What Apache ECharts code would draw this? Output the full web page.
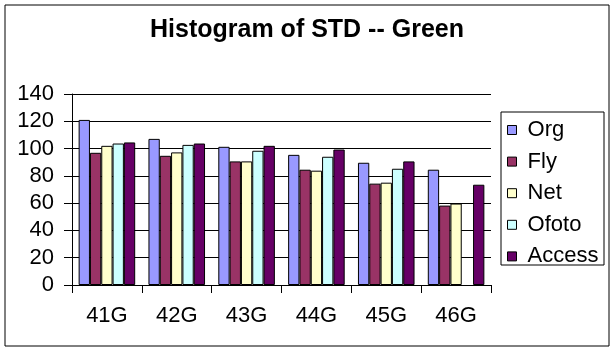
<!DOCTYPE html>
<html>
<head>
<meta charset="utf-8">
<script src="https://cdn.jsdelivr.net/npm/echarts@6/dist/echarts.min.js"></script>
<style>
html,body{margin:0;padding:0;background:#fff;}
#chart{width:614px;height:352px;}
</style>
</head>
<body>
<div id="chart"></div>
<script>
var categories = ['41G', '42G', '43G', '44G', '45G', '46G'];
var seriesNames = ['Org', 'Fly', 'Net', 'Ofoto', 'Access'];
var org    = [121.0, 107.1, 101.3, 95.4, 89.6, 84.5];
var fly    = [96.9, 94.7, 90.6, 84.5, 74.3, 58.2];
var net    = [102.0, 97.2, 90.6, 83.8, 75.0, 59.7];
var ofoto  = [103.7, 102.7, 98.4, 94.0, 85.2, null];
var access = [104.5, 103.7, 102.0, 99.3, 90.6, 73.5];
var yTicks = [0, 20, 40, 60, 80, 100, 120, 140];
var colors = ['#9999FF', '#993366', '#FFFFCC', '#CCFFFF', '#660066'];
var values = [org, fly, net, ofoto, access];

var FONT = "'Liberation Sans', Arial, sans-serif";
var chart = echarts.init(document.getElementById('chart'), null, {renderer: 'canvas'});

var series = seriesNames.map(function (n, i) {
  return {
    name: n,
    type: 'bar',
    data: values[i],
    barGap: '0%',
    barCategoryGap: '19%',
    itemStyle: {color: colors[i], borderColor: '#000', borderWidth: 1},
    emphasis: {disabled: true}
  };
});

chart.setOption({
  animation: false,
  backgroundColor: '#fff',
  title: {
    text: 'Histogram of STD -- Green',
    left: 'center',
    top: 13,
    textStyle: {fontFamily: FONT, fontSize: 25, fontWeight: 'bold', color: '#000'}
  },
  grid: {left: 72, right: 123, top: 94, bottom: 67, containLabel: false},
  legend: {
    orient: 'vertical',
    left: 507,
    top: 119,
    padding: 0,
    itemWidth: 9,
    itemHeight: 9,
    itemGap: 9.6,
    icon: 'rect',
    data: seriesNames,
    formatter: function (n) { return ' ' + n; },
    itemStyle: {borderColor: '#000', borderWidth: 1},
    textStyle: {fontFamily: FONT, fontSize: 22, lineHeight: 21, color: '#000'},
    selectedMode: false
  },
  xAxis: {
    type: 'category',
    data: categories,
    boundaryGap: true,
    axisLine: {lineStyle: {color: '#000', width: 1}},
    axisTick: {show: true, length: 8, lineStyle: {color: '#000'}},
    axisLabel: {margin: 20, fontFamily: FONT, fontSize: 22, color: '#000'}
  },
  yAxis: {
    type: 'value',
    min: yTicks[0],
    max: yTicks[yTicks.length - 1],
    interval: 20,
    axisLine: {show: true, lineStyle: {color: '#000', width: 1}},
    axisTick: {show: true, length: 8, lineStyle: {color: '#000'}},
    axisLabel: {margin: 18, fontFamily: FONT, fontSize: 22, color: '#000'},
    splitLine: {show: true, lineStyle: {color: '#000', width: 1}}
  },
  graphic: [
    {type: 'rect', shape: {x: 5, y: 5, width: 604, height: 341}, style: {fill: 'none', stroke: '#000', lineWidth: 1}, silent: true},
    {type: 'rect', shape: {x: 501, y: 112, width: 103, height: 153}, style: {fill: 'none', stroke: '#000', lineWidth: 1}, silent: true}
  ],
  series: series
});
</script>
</body>
</html>
